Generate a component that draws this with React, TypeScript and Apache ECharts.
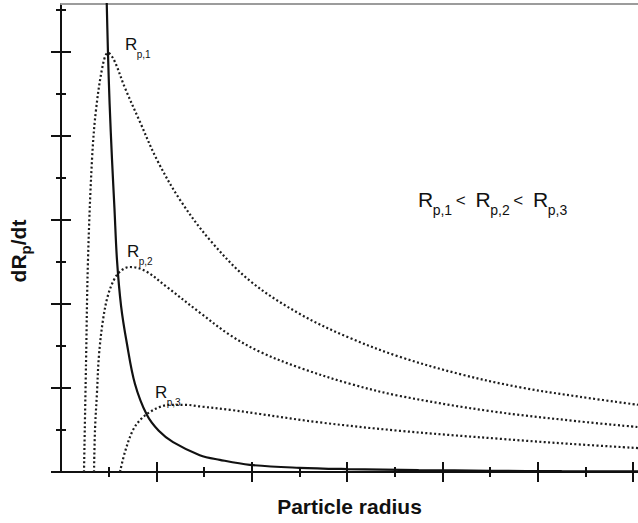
import { useEffect, useRef } from "react";
import * as echarts from "echarts";

// Particle radius (x) samples and growth-rate values (y) for each curve
const solidRadius = [0.95, 0.985, 1.02, 1.07, 1.12, 1.174, 1.26, 1.38, 1.55, 1.8, 2.05, 2.35, 2.91, 3.33, 3.96, 5.0, 6.0, 7.5, 9.0, 10.5, 12.1];
const solidRate = [11.6, 9.98, 8.75, 7.43, 6.3, 5.05, 3.95, 3.07, 2.1, 1.36, 0.98, 0.71, 0.4, 0.29, 0.17, 0.1, 0.07, 0.045, 0.03, 0.02, 0.015];

const rp1Radius = [0.482, 0.524, 0.566, 0.65, 0.734, 0.881, 0.985, 1.111, 1.342, 1.657, 2.013, 2.495, 3.124, 3.963, 5.011, 6.06, 7.108, 8.367, 9.604, 10.883, 12.1];
const rp1Rate = [0, 2.55, 5.05, 7.43, 8.62, 9.71, 9.98, 9.81, 9.14, 8.33, 7.43, 6.48, 5.52, 4.55, 3.76, 3.19, 2.74, 2.33, 2.02, 1.79, 1.6];

const rp2Radius = [0.692, 0.713, 0.755, 0.797, 0.881, 0.986, 1.132, 1.279, 1.447, 1.761, 2.223, 2.915, 3.544, 4.173, 5.011, 6.06, 7.108, 8.996, 10.82, 12.1];
const rp2Rate = [0, 1.0, 1.9, 2.79, 3.62, 4.21, 4.62, 4.81, 4.88, 4.79, 4.4, 3.79, 3.26, 2.86, 2.48, 2.1, 1.81, 1.45, 1.21, 1.07];

const rp3Radius = [1.237, 1.342, 1.51, 1.677, 1.866, 2.076, 2.286, 2.6, 2.915, 3.544, 4.173, 5.431, 7.108, 9.205, 10.673, 12.1];
const rp3Rate = [0, 0.48, 1.0, 1.26, 1.43, 1.55, 1.6, 1.6, 1.56, 1.48, 1.38, 1.18, 0.98, 0.79, 0.67, 0.57];

// Axis extents and tick positions
const X_MAX = 12.1;
const Y_MAX = 11.14;
const xMajorTicks = [2, 4, 6, 8, 10, 12];
const xMinorTicks = [1, 3, 5, 7, 9, 11];
const yMajorTicks = [0, 2, 4, 6, 8, 10];
const yMinorTicks = [1, 3, 5, 7, 9, 11];

const FONT = "'Liberation Sans', Arial, Helvetica, sans-serif";
const INK = "#111";

const zip = (xs: number[], ys: number[]) => xs.map((x, i) => [x, ys[i]]);

const measure = (text: string, size: number, weight: string) => {
  const ctx = document.createElement("canvas").getContext("2d");
  if (!ctx) return text.length * size * 0.55;
  ctx.font = `${weight} ${size}px ${FONT}`;
  return ctx.measureText(text).width;
};

const txt = (text: string, x: number, y: number, size: number, weight = "normal") => ({
  type: "text",
  x,
  y,
  silent: true,
  style: {
    text,
    fontSize: size,
    fontFamily: FONT,
    fontWeight: weight,
    fill: INK,
    align: "left",
    verticalAlign: "middle",
  },
});

// "R" with a "p,n" subscript
const radiusLabel = (n: number, x: number, y: number, size: number, subSize: number, drop: number) => {
  const w = measure("R", size, "normal");
  return [txt("R", x, y, size), txt(`p,${n}`, x + w - 0.5, y + drop, subSize)];
};

const yAxisNameGroup = () => {
  const big = 21;
  const small = 15;
  const w1 = measure("dR", big, "bold");
  const w2 = measure("p", small, "bold");
  const w3 = measure("/dt", big, "bold");
  const start = -(w1 + w2 + w3) / 2;
  return {
    type: "group",
    x: 18,
    y: 251,
    rotation: Math.PI / 2,
    children: [
      txt("dR", start, 0, big, "bold"),
      txt("p", start + w1, 7, small, "bold"),
      txt("/dt", start + w1 + w2, 0, big, "bold"),
    ],
  };
};

const tickAxisX = (offset: number, length: number, values: number[]) => ({
  type: "value",
  min: 0,
  max: X_MAX,
  position: "bottom",
  offset,
  axisLine: { show: false, onZero: false },
  axisTick: { show: true, length, customValues: values, lineStyle: { color: INK, width: 2 } },
  axisLabel: { show: false },
  splitLine: { show: false },
});

const tickAxisY = (offset: number, length: number, values: number[]) => ({
  type: "value",
  min: 0,
  max: Y_MAX,
  position: "left",
  offset,
  axisLine: { show: false, onZero: false },
  axisTick: { show: true, length, customValues: values, lineStyle: { color: INK, width: 2 } },
  axisLabel: { show: false },
  splitLine: { show: false },
});

const curve = (name: string, xs: number[], ys: number[], dotted: boolean) => ({
  name,
  type: "line",
  data: zip(xs, ys),
  xAxisIndex: 0,
  yAxisIndex: 0,
  symbol: "none",
  showSymbol: false,
  smooth: 0.35,
  clip: true,
  lineStyle: dotted
    ? { color: "#1c1c1c", width: 2.2, type: [2, 2.4], cap: "butt" }
    : { color: INK, width: 2.2, type: "solid" },
});

export default function App() {
  const ref = useRef<HTMLDivElement>(null);

  useEffect(() => {
    document.body.style.margin = "0";
    if (!ref.current) return;
    const chart = echarts.init(ref.current, undefined, { renderer: "svg" });

    // "Rp,1 < Rp,2 < Rp,3" ordering note
    const bigLabel: any[] = [];
    let cx = 418;
    [1, 2, 3].forEach((n, i) => {
      bigLabel.push(...radiusLabel(n, cx, 199.5, 21, 14, 10));
      cx += measure("R", 21, "normal") + measure(`p,${n}`, 14, "normal") + 1;
      if (i < 2) {
        bigLabel.push(txt("<", cx + 2, 200, 17));
        cx += measure("<", 17, "normal") + 12;
      }
    });

    chart.setOption({
      animation: false,
      backgroundColor: "#fff",
      grid: { left: 61, right: 0, top: 4, bottom: 51, containLabel: false, outerBoundsMode: "none" },
      xAxis: [
        {
          type: "value",
          min: 0,
          max: X_MAX,
          position: "bottom",
          axisLine: { show: true, onZero: false, lineStyle: { color: INK, width: 2 } },
          axisTick: { show: false },
          axisLabel: { show: false },
          splitLine: { show: false },
          name: "Particle radius",
          nameLocation: "middle",
          nameGap: 24,
          nameTextStyle: { fontSize: 21, fontWeight: "bold", fontFamily: FONT, color: INK },
        },
        tickAxisX(-10, 20, xMajorTicks),
        tickAxisX(-5, 10, xMinorTicks),
        {
          type: "value",
          min: 0,
          max: X_MAX,
          position: "top",
          axisLine: { show: true, onZero: false, lineStyle: { color: "#9c9c9c", width: 2 } },
          axisTick: { show: false },
          axisLabel: { show: false },
          splitLine: { show: false },
        },
      ],
      yAxis: [
        {
          type: "value",
          min: 0,
          max: Y_MAX,
          position: "left",
          axisLine: { show: true, onZero: false, lineStyle: { color: INK, width: 2 } },
          axisTick: { show: false },
          axisLabel: { show: false },
          splitLine: { show: false },
        },
        tickAxisY(-10, 20, yMajorTicks),
        tickAxisY(-5, 10, yMinorTicks),
      ],
      series: [
        curve("Rp,1", rp1Radius, rp1Rate, true),
        curve("Rp,2", rp2Radius, rp2Rate, true),
        curve("Rp,3", rp3Radius, rp3Rate, true),
        curve("growth", solidRadius, solidRate, false),
      ],
      graphic: [
        ...radiusLabel(1, 125, 44, 17, 10, 10.5),
        ...radiusLabel(2, 127, 251, 17, 10, 10.5),
        ...radiusLabel(3, 155, 392, 17, 10, 10.5),
        ...bigLabel,
        yAxisNameGroup(),
      ],
    });

    return () => chart.dispose();
  }, []);

  return <div ref={ref} style={{ width: 638, height: 523 }} />;
}
